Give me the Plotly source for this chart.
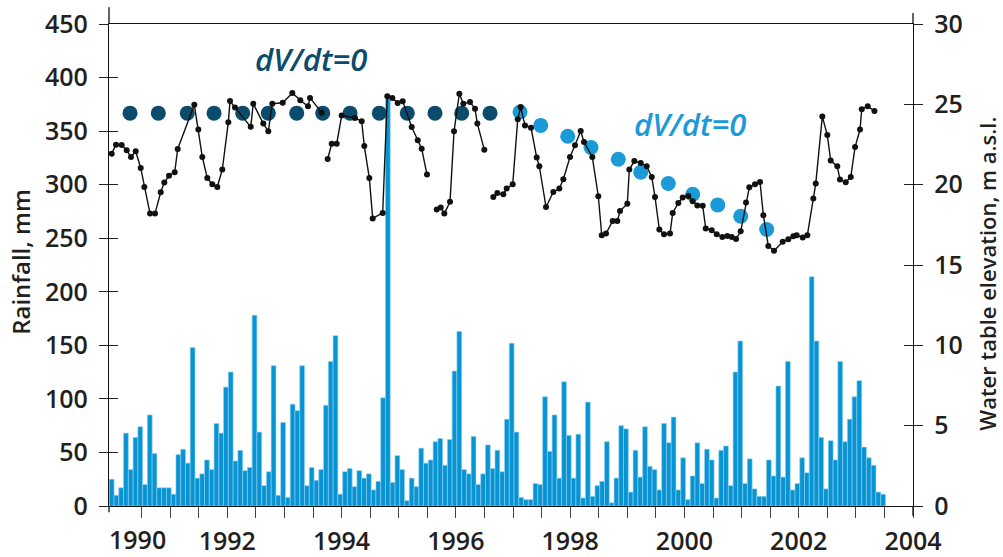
import plotly.graph_objects as go

# ---------------- data ----------------
rain_first_year = 1990  # monthly series starting January 1990
rain_mm = [25, 10, 17, 68, 34, 64, 74, 20, 85, 49, 17, 17,
           17, 11, 48, 53, 40, 148, 26, 30, 43, 34, 77, 68,
           111, 125, 42, 52, 33, 36, 178, 69, 19, 32, 131, 10,
           78, 8, 95, 89, 131, 19, 36, 24, 34, 94, 135, 159,
           11, 32, 35, 18, 33, 26, 30, 15, 23, 101, 380, 22,
           47, 34, 5, 26, 18, 54, 40, 43, 60, 63, 38, 62,
           126, 163, 34, 30, 65, 20, 30, 57, 35, 52, 32, 81,
           152, 69, 8, 6, 6, 21, 20, 102, 51, 85, 26, 116,
           66, 26, 67, 7.5, 97, 9, 19, 23, 60, 3, 26, 75,
           72, 13, 52, 27, 74, 37, 34, 15, 77, 59, 83, 15,
           45, 6, 28, 59, 21, 53, 43, 7.5, 52, 56, 19, 125,
           154, 21, 44, 16, 9, 9, 43, 28, 112, 27, 135, 15,
           21, 45, 31, 214, 154, 64, 16, 61, 43, 135, 60, 81,
           102, 117, 55, 45, 38, 13, 11]

wt_year = [1989.977, 1990.053, 1990.152, 1990.240, 1990.315, 1990.397, 1990.485, 1990.548,
           1990.648, 1990.735, 1990.835, 1990.898, 1990.980, 1991.080, 1991.132, 1991.423,
           1991.493, 1991.563, 1991.650, 1991.738, 1991.825, 1991.913, 1992.018, 1992.048,
           1992.135, 1992.410, 1992.455, 1992.630, 1992.718, 1992.788, 1992.970, 1993.138,
           1993.278, 1993.413, 1993.448, 1993.652, None,
           1993.757, 1993.827, 1993.915, 1994.002, 1994.235, 1994.352, 1994.398, 1994.485,
           1994.545, 1994.720, 1994.800, 1994.888, 1994.982, 1995.070, 1995.227, 1995.333,
           1995.402, 1995.495, None,
           1995.665, 1995.735, 1995.798, 1995.898, 1995.968, 1996.061, 1996.131, 1996.248,
           1996.335, 1996.376, 1996.498, None,
           1996.656, 1996.726, 1996.830, 1996.890, 1996.995, 1997.083, 1997.135, 1997.210,
           1997.315, 1997.415, 1997.461, 1997.578, 1997.706, 1997.811, 1997.881, 1997.998,
           1998.085, 1998.185, 1998.243, 1998.388, 1998.493, 1998.553, 1998.628, 1998.745,
           1998.826, 1998.873, 1999.001, 1999.036, 1999.123, 1999.235, 1999.340, 1999.428,
           1999.485, 1999.561, 1999.643, 1999.748, 1999.795, 1999.893, 1999.970, 2000.068,
           2000.145, 2000.226, 2000.320, 2000.373, 2000.478, 2000.565, 2000.663, 2000.751,
           2000.828, 2000.903, 2000.985, 2001.078, 2001.136, 2001.235, 2001.323, 2001.381,
           2001.468, 2001.568, 2001.720, 2001.818, 2001.906, 2001.965, 2002.070, 2002.151,
           2002.256, 2002.298, 2002.413, 2002.500, 2002.560, 2002.675, 2002.722, 2002.823,
           2002.911, 2002.986, 2003.073, 2003.103, 2003.208, 2003.325]
wt_level = [21.93, 22.49, 22.47, 22.14, 21.72, 22.08, 21.04, 19.86,
            18.2, 18.2, 19.53, 20.13, 20.56, 20.77, 22.22, 24.98,
            23.44, 21.72, 20.42, 20.02, 19.86, 20.94, 23.88, 25.2,
            24.8, 23.6, 25.04, 23.8, 23.32, 25.04, 25.1, 25.7,
            25.25, 24.88, 25.4, 24.48, None,
            21.6, 22.55, 22.55, 24.3, 24.15, 23.94, 22.4, 20.42,
            17.9, 18.24, 25.5, 25.4, 25.08, 25.19, 23.59, 22.76,
            22.24, 20.63, None,
            18.45, 18.58, 18.2, 18.93, 23.32, 25.66, 25.04, 25.14,
            24.73, 23.8, 22.18, None,
            19.24, 19.48, 19.4, 19.76, 20.02, 24.07, 24.83, 23.69,
            23.55, 21.69, 21.14, 18.61, 19.55, 19.76, 20.34, 21.72,
            22.45, 23.34, 22.65, 21.72, 19.28, 16.85, 16.96, 17.74,
            17.74, 18.36, 18.82, 20.94, 21.47, 21.35, 21.14, 20.48,
            19.24, 17.21, 16.92, 16.96, 18.24, 18.86, 19.2, 19.3,
            18.97, 18.7, 18.68, 17.27, 17.16, 16.92, 16.75, 16.81,
            16.75, 16.62, 17.1, 18.89, 19.84, 20.02, 20.17, 18.1,
            16.19, 15.88, 16.44, 16.6, 16.79, 16.85, 16.71, 16.85,
            19.14, 20.07, 24.25, 23.09, 21.5, 21.14, 20.32, 20.15,
            20.48, 22.34, 23.43, 24.69, 24.88, 24.58]

steady_year = [1990.298, 1990.793, 1991.300, 1991.768, 1992.270, 1992.718, 1993.215,
               1993.670, 1994.148, 1994.661, 1995.150, 1995.635, 1996.102, 1996.598]
steady_level = [24.45] * len(steady_year)

decline_year = [1997.123, 1997.485, 1997.958, 1998.365, 1998.843, 1999.235,
                1999.718, 2000.145, 2000.583, 2000.985, 2001.440]
decline_level = [24.52, 23.69, 23.01, 22.31, 21.58, 20.77, 20.07, 19.4, 18.74, 18.03, 17.21]

x_tick_years = [1990.5 + 0.5 * i for i in range(28)]
x_tick_text = [str(int(v)) if (v == int(v) and int(v) % 2 == 0) else "" for v in x_tick_years]
first_year_label = "1990"

# ---------------- styling ----------------
FONT = "Open Sans"
TXT = "#231f20"
BAR = "#0893d3"
DARK = "#0b4b6c"
LIGHT = "#1b9ad7"

rain_x = [rain_first_year + i / 12 for i in range(len(rain_mm))]

fig = go.Figure()
fig.add_trace(go.Bar(x=rain_x, y=rain_mm, width=1 / 12, offset=-0.065,
                     marker=dict(color=BAR, line=dict(color="#8fd1f1", width=0.6)),
                     yaxis="y", showlegend=False))
fig.add_trace(go.Scatter(x=steady_year, y=steady_level, mode="markers",
                         marker=dict(color=DARK, size=15), yaxis="y2", showlegend=False))
fig.add_trace(go.Scatter(x=decline_year, y=decline_level, mode="markers",
                         marker=dict(color=LIGHT, size=15), yaxis="y2", showlegend=False))
fig.add_trace(go.Scatter(x=wt_year, y=wt_level, mode="lines+markers",
                         line=dict(color="#111111", width=1.4),
                         marker=dict(color="#111111", size=6),
                         connectgaps=False, yaxis="y2", showlegend=False))
# helper traces so the tick-crossing overlay axes are drawn
fig.add_trace(go.Scatter(x=[None], y=[None], yaxis="y3", showlegend=False))
fig.add_trace(go.Scatter(x=[None], y=[None], yaxis="y4", showlegend=False))

tickfont = dict(family=FONT, size=25, color=TXT, weight=600)

fig.update_layout(
    width=1003, height=557,
    margin=dict(l=109, r=90, t=24, b=51, autoexpand=False),
    paper_bgcolor="white", plot_bgcolor="white",
    showlegend=False,
    xaxis=dict(range=[1989.93, 2004], tickmode="array", tickvals=x_tick_years,
               ticktext=x_tick_text, ticks="outside", ticklen=11, tickwidth=1.3,
               tickcolor="#444", showline=True, linecolor="#111", linewidth=1.3,
               mirror=True, showgrid=False, zeroline=False, tickfont=tickfont,
               ticklabelstandoff=2, automargin=False),
    yaxis=dict(range=[0, 450], dtick=50, ticks="outside", ticklen=9, tickwidth=1.3,
               tickcolor="#222", showline=True, linecolor="#111", linewidth=1.3,
               showgrid=False, zeroline=False, tickfont=tickfont, ticklabelstandoff=6,
               automargin=False),
    yaxis2=dict(range=[0, 30], dtick=5, overlaying="y", side="right", ticks="outside",
                ticklen=9, tickwidth=1.3, tickcolor="#222", showline=True, linecolor="#111",
                linewidth=1.3, showgrid=False, zeroline=False, tickfont=tickfont,
                ticklabelstandoff=6, automargin=False),
    yaxis3=dict(range=[0, 450], dtick=50, overlaying="y", side="left", ticks="inside",
                ticklen=9, tickwidth=1.3, tickcolor="#222", showticklabels=False,
                showline=False, showgrid=False, zeroline=False, automargin=False),
    yaxis4=dict(range=[0, 30], dtick=5, overlaying="y", side="right", ticks="inside",
                ticklen=9, tickwidth=1.3, tickcolor="#222", showticklabels=False,
                showline=False, showgrid=False, zeroline=False, automargin=False),
)

annots = [
    dict(text=first_year_label, x=1990, xref="x", xanchor="left", xshift=-6,
         y=-0.068, yref="paper", yanchor="middle", showarrow=False, font=tickfont),
    dict(text="Rainfall, mm", textangle=-90, x=-0.111, xref="paper", xanchor="center",
         y=0.506, yref="paper", yanchor="middle", showarrow=False,
         font=dict(family=FONT, size=24, color=TXT, weight=600)),
    dict(text="Water table elevation, m a.s.l.", textangle=-90, x=1.092, xref="paper",
         xanchor="center", y=0.482, yref="paper", yanchor="middle", showarrow=False,
         font=dict(family=FONT, size=22, color=TXT, weight=600)),
    dict(text="<i>dV/dt=0</i>", x=1993.465, xref="x", y=27.85, yref="y2",
         xanchor="center", yanchor="middle", showarrow=False,
         font=dict(family=FONT, size=31, color=DARK, weight=600)),
    dict(text="<i>dV/dt=0</i>", x=2000.098, xref="x", y=23.75, yref="y2",
         xanchor="center", yanchor="middle", showarrow=False,
         font=dict(family=FONT, size=31, color=LIGHT, weight=600)),
]
fig.update_layout(annotations=annots)

# axis lines extend a little beyond the frame, as in the original
fig.add_shape(type="line", xref="paper", yref="paper", x0=0, x1=0, y0=1, y1=1.035,
              line=dict(color="#111", width=1.3))
fig.add_shape(type="line", xref="paper", yref="paper", x0=1, x1=1, y0=1, y1=1.023,
              line=dict(color="#111", width=1.3))
fig.add_shape(type="line", xref="paper", yref="paper", x0=0, x1=0, y0=-0.013, y1=0,
              line=dict(color="#111", width=1.3))
fig.add_shape(type="line", xref="paper", yref="paper", x0=1, x1=1, y0=-0.02, y1=0,
              line=dict(color="#111", width=1.3))

fig.write_html("out.html")
